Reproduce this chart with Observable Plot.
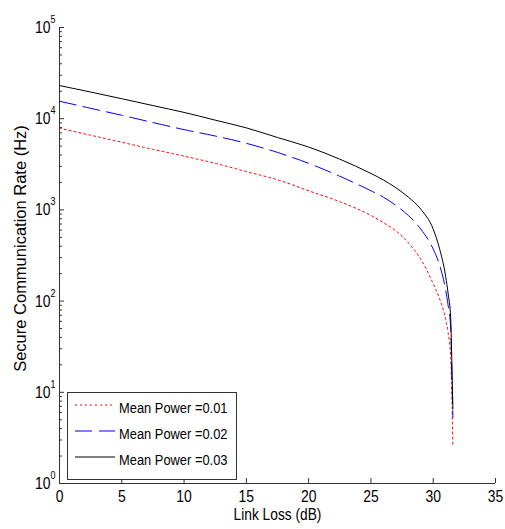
<!DOCTYPE html>
<html><head><meta charset="utf-8">
<script src="https://cdn.jsdelivr.net/npm/d3@7"></script>
<script src="https://cdn.jsdelivr.net/npm/@observablehq/plot@0.6"></script>
<style>body{margin:0;background:#fff} #chart svg{display:block}</style>
</head><body><div id="chart"></div>
<script>
// Link loss (dB) sample points
const lossDb = [0, 2.5, 5, 7.5, 10, 12.5, 15, 17.5, 20, 22.5, 25, 26, 27, 28, 29, 30, 30.5, 31, 31.2, 31.4, 31.5, 31.58];
// Secure communication rate (Hz) for each mean power
const rate001 = [7870, 6590, 5520, 4610, 3890, 3240, 2630, 2140, 1620, 1230, 870, 724, 589, 436, 288, 155, 107, 63, 45, 24, 9, 2.5];
const rate002 = [15550, 13000, 10900, 9080, 7590, 6460, 5370, 4270, 3240, 2340, 1620, 1380, 1120, 870, 617, 372, 251, 132, 89, 52, 15, 5.3];
const rate003 = [23100, 19600, 16560, 13930, 11720, 9640, 7930, 6220, 4890, 3600, 2510, 2130, 1750, 1380, 1020, 615, 380, 186, 120, 66, 20, 6.6];

const seriesNames = ["Mean Power =0.01", "Mean Power =0.02", "Mean Power =0.03"];
const seriesRates = [rate001, rate002, rate003];
const seriesColors = ["#ff0000", "#0000ff", "#000000"];
const seriesDash = ["2,3", "17,7", null];

const xTicks = [0, 5, 10, 15, 20, 25, 30, 35];
const yTicks = [1, 10, 100, 1000, 10000, 100000];
const yMinorMultipliers = [2, 3, 4, 5, 6, 7, 8, 9];
const yMinor = yTicks.slice(0, -1).flatMap(d => yMinorMultipliers.map(m => d * m));

const xLabel = "Link Loss (dB)";
const yLabel = "Secure Communication Rate (Hz)";

const FONT = "'Liberation Sans',Arial,Helvetica,sans-serif";
const NARROW = 0.82; // horizontal squeeze to mimic the condensed MATLAB text

const rows = [];
seriesNames.forEach((name, i) => lossDb.forEach((x, j) => rows.push({series: name, loss: x, rate: seriesRates[i][j]})));

const chart = Plot.plot({
  width: 505, height: 529,
  marginLeft: 59, marginRight: 10, marginTop: 27, marginBottom: 46,
  style: {fontFamily: FONT, fontSize: "17px", color: "#000", background: "#fff", overflow: "visible"},
  x: {domain: [0, 35]},
  y: {type: "log", domain: [1, 100000]},
  marks: [
    Plot.axisX({ticks: xTicks, tickSize: -5, tickPadding: 11, label: null, stroke: "#333"}),
    Plot.axisY({ticks: yTicks, tickSize: -5, tickPadding: 9, label: null, stroke: "#333",
      tickFormat: d => "10^" + Math.round(Math.log10(d))}),
    Plot.axisY({ticks: yMinor, tickSize: -3, tickFormat: () => "", label: null, stroke: "#333"}),
    Plot.ruleX([0], {stroke: "#333"}),
    Plot.ruleY([1], {stroke: "#333"}),
    ...seriesNames.map((name, i) => Plot.line(rows.filter(r => r.series === name), {
      x: "loss", y: "rate", stroke: seriesColors[i], strokeWidth: 1, curve: "monotone-x",
      strokeDasharray: seriesDash[i] ?? undefined
    })),
    Plot.text([xLabel], {frameAnchor: "bottom", dy: 36, fontSize: 16, fill: "#000", textAnchor: "middle"}),
    Plot.text([yLabel], {frameAnchor: "left", dx: -39, dy: -7, rotate: -90, fontSize: 16.5, fill: "#000", textAnchor: "middle"})
  ]
});

const svg = d3.select(chart);
// superscript exponents for the log tick labels
svg.selectAll('g[aria-label="y-axis tick label"] text').each(function () {
  const t = this.textContent;
  if (!t.includes("^")) return;
  const [b, e] = t.split("^");
  const sel = d3.select(this);
  sel.text(null);
  sel.append("tspan").text(b);
  sel.append("tspan").attr("font-size", "11px").attr("dy", "-10").text(e);
});
// squeeze tick labels and x label horizontally
svg.selectAll('g[aria-label="y-axis tick label"] text, g[aria-label="x-axis tick label"] text').each(function () {
  const tr = this.getAttribute("transform") || "";
  this.setAttribute("transform", tr + ` scale(${NARROW},1)`);
});
svg.selectAll('g[aria-label="text"] text').each(function () {
  if (this.textContent !== xLabel) return;
  const tr = this.getAttribute("transform") || "";
  this.setAttribute("transform", tr + ` scale(0.86,1)`);
});

// legend box
const lg = svg.append("g").attr("font-family", FONT).attr("font-size", 15);
lg.append("rect").attr("x", 67.5).attr("y", 392.5).attr("width", 169).attr("height", 87)
  .attr("fill", "#fff").attr("stroke", "#333");
seriesNames.forEach((name, i) => {
  const ly = 405 + i * 26;
  const l = lg.append("line").attr("x1", 75).attr("x2", 115).attr("y1", ly).attr("y2", ly)
    .attr("stroke", seriesColors[i]).attr("stroke-width", 1);
  if (seriesDash[i]) l.attr("stroke-dasharray", seriesDash[i]);
  lg.append("text").attr("text-anchor", "start")
    .attr("transform", `translate(119,${ly + 8}) scale(0.86,1)`)
    .attr("fill", "#000").text(name);
});

document.getElementById("chart").appendChild(chart);
</script>
</body></html>
